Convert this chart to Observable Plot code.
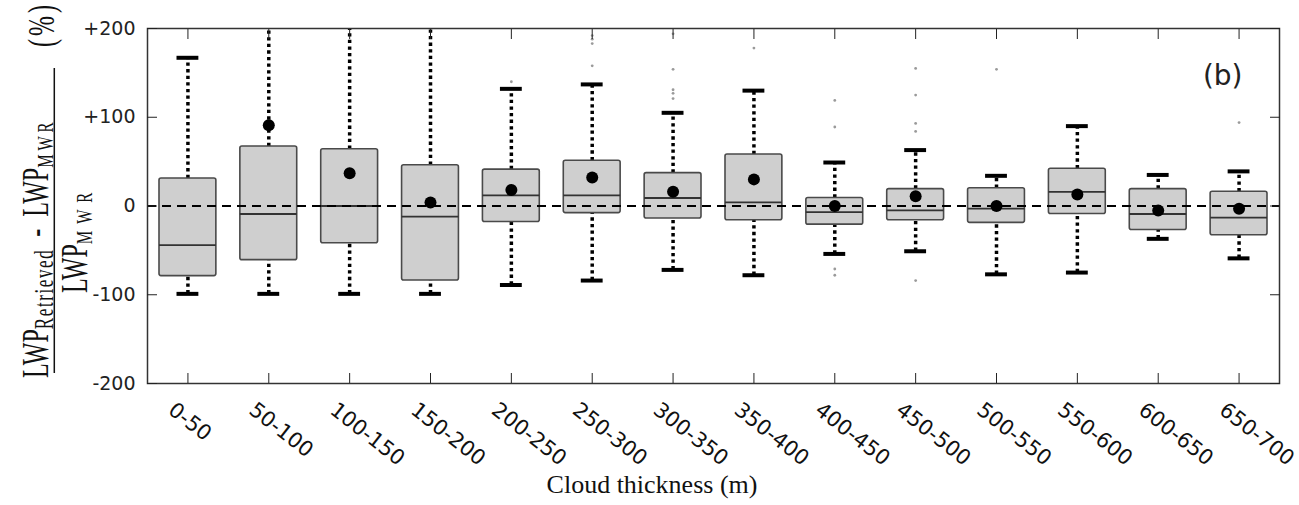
<!DOCTYPE html>
<html><head><meta charset="utf-8">
<script src="https://cdn.jsdelivr.net/npm/d3@7"></script>
<script src="https://cdn.jsdelivr.net/npm/@observablehq/plot@0.6"></script>
<style>
body{margin:0;background:#fff;}
#wrap{position:relative;width:1299px;height:505px;overflow:hidden;}
#ylab{position:absolute;left:0;top:0;}
</style></head><body>
<div id="wrap"><div id="chart"></div>
<svg id="ylab" width="147" height="400" xmlns="http://www.w3.org/2000/svg" font-family="Liberation Serif, Times New Roman, serif" fill="#111">
  <g transform="translate(48,378) rotate(-90) scale(1,1.6)">
    <text font-size="24">LWP<tspan font-size="17" dy="3.1" letter-spacing="1.6">Retrieved</tspan><tspan dy="-3.1">&#8194;-&#8194;LWP</tspan><tspan font-size="15" dy="3.1" letter-spacing="4">MWR</tspan></text>
  </g>
  <line x1="54.3" x2="54.3" y1="68" y2="373" stroke="#111" stroke-width="1.5"/>
  <g transform="translate(87,293) rotate(-90) scale(1,1.6)">
    <text font-size="24">LWP<tspan font-size="15" dy="3.1" letter-spacing="7">MWR</tspan></text>
  </g>
  <g transform="translate(54,47) rotate(-90) scale(1,1.6)">
    <text font-size="24" letter-spacing="3">(%)</text>
  </g>
</svg>
</div>
<script>
const categories = ["0-50","50-100","100-150","150-200","200-250","250-300","300-350","350-400","400-450","450-500","500-550","550-600","600-650","650-700"];
// upper whisker ends (values above +200 run off the top of the axis)
const whiskerHigh = [167, 300, 300, 300, 132, 137, 105, 130, 49, 63, 34, 90, 35, 39];
const q3 =          [31, 67, 64, 46, 41, 51, 37, 58, 9, 19, 20, 42, 19, 16];
const median =      [-44, -9, 0, -12, 12, 12, 9, 4, -7, -5, -3, 16, -9, -13];
const q1 =          [-79, -61, -42, -84, -18, -8, -14, -16, -21, -16, -19, -9, -27, -33];
const whiskerLow =  [-99, -99, -99, -99, -89, -84, -72, -78, -54, -51, -77, -75, -37, -59];
const means =       [null, 91, 37, 4, 18, 32, 16, 30, 0, 11, 0, 13, -5, -3];
const outlierCat = ["200-250","250-300","250-300","250-300","250-300","300-350","300-350","300-350","300-350","300-350","350-400","400-450","400-450","400-450","400-450","450-500","450-500","450-500","450-500","450-500","500-550","650-700"];
const outlierVal = [140, 192, 188, 183, 158, 194, 154, 131, 127, 121, 178, 119, 89, -71, -78, 155, 125, 93, 84, -84, 154, 94];
const yTicks = [-200, -100, 0, 100, 200];
const yTickLabels = ["-200", "-100", "0", "+100", "+200"];
const panelLabel = ["(b)"];
const xLabel = ["Cloud thickness (m)"];

const boxes = categories.map((c, i) => ({cat: c, lo: whiskerLow[i], q1: q1[i], med: median[i], q3: q3[i], hi: whiskerHigh[i], mean: means[i]}));
const outliers = outlierCat.map((c, i) => ({cat: c, v: outlierVal[i]}));

const chart = Plot.plot({
  width: 1299, height: 505,
  marginLeft: 147, marginRight: 20, marginTop: 28, marginBottom: 122,
  style: {fontFamily: "DejaVu Sans", background: "white", color: "#222"},
  x: {type: "band", domain: categories, padding: 0, round: false},
  y: {domain: [-200, 200]},
  marks: [
    Plot.ruleX(boxes, {x: "cat", y1: "q3", y2: "hi", stroke: "#000", strokeWidth: 3.5, strokeDasharray: "3.3 3.3", clip: true}),
    Plot.ruleX(boxes, {x: "cat", y1: "lo", y2: "q1", stroke: "#000", strokeWidth: 3.5, strokeDasharray: "3.3 3.3"}),
    Plot.tickY(boxes, {x: "cat", y: "hi", insetLeft: 29.5, insetRight: 29.5, stroke: "#000", strokeWidth: 4, clip: true}),
    Plot.tickY(boxes, {x: "cat", y: "lo", insetLeft: 29.5, insetRight: 29.5, stroke: "#000", strokeWidth: 4}),
    Plot.dot(outliers, {x: "cat", y: "v", r: 1.4, fill: "#9a9a9a", stroke: "none"}),
    Plot.barY(boxes, {x: "cat", y1: "q1", y2: "q3", insetLeft: 12, insetRight: 12, fill: "#cfcfcf", stroke: "#4a4a4a", strokeWidth: 1.6, rx: 2}),
    Plot.tickY(boxes, {x: "cat", y: "med", insetLeft: 12, insetRight: 12, stroke: "#333", strokeWidth: 1.8}),
    Plot.ruleY([0], {stroke: "#000", strokeWidth: 2, strokeDasharray: "9 6"}),
    Plot.dot(boxes.filter(d => d.mean != null), {x: "cat", y: "mean", r: 6, fill: "#000", stroke: "none"}),
    Plot.frame({stroke: "#333", strokeWidth: 1.5}),
    Plot.axisY({ticks: yTicks, tickSize: -10, tickPadding: 22, tickFormat: d => yTickLabels[yTicks.indexOf(d)], fontSize: 19, label: null}),
    Plot.axisY({anchor: "right", ticks: yTicks, tickSize: -10, fill: "none", label: null}),
    Plot.axisX({anchor: "bottom", tickSize: -10, fill: "none", label: null}),
    Plot.axisX({anchor: "top", tickSize: -10, fill: "none", label: null}),
    Plot.text(categories, {x: d => d, text: d => d, frameAnchor: "bottom", dx: -21, dy: 29, rotate: 38, textAnchor: "start", lineAnchor: "bottom", fontSize: 21, fill: "#111"}),
    Plot.text(panelLabel, {text: d => d, frameAnchor: "top-right", dx: -37, dy: 48, textAnchor: "end", lineAnchor: "middle", fontSize: 28, fill: "#222"}),
    Plot.text(xLabel, {text: d => d, frameAnchor: "bottom", dx: -61.5, dy: 109, lineAnchor: "bottom", fontSize: 26, fontFamily: "Liberation Serif, Times New Roman, serif", fill: "#111"})
  ]
});
document.getElementById("chart").appendChild(chart);
</script>
</body></html>
